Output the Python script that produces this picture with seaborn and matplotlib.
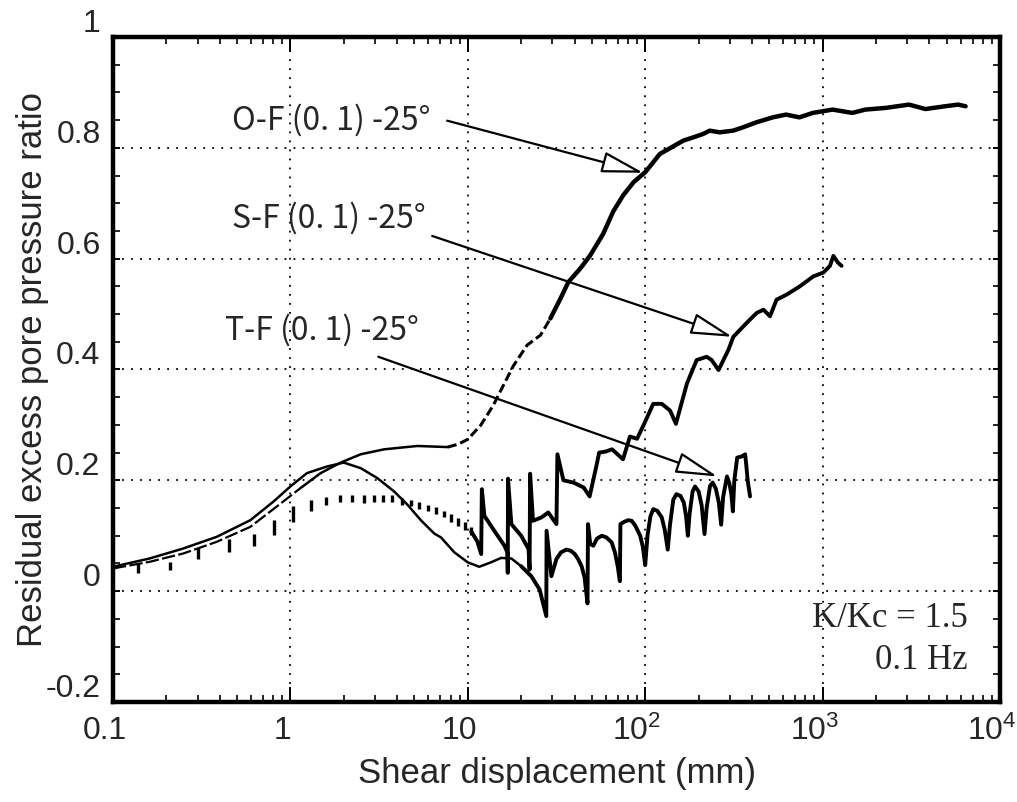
import numpy as np
import matplotlib
matplotlib.use("Agg")
import matplotlib.pyplot as plt
import matplotlib.transforms as mtransforms
from matplotlib.ticker import FixedLocator, MultipleLocator, LogLocator, NullFormatter
import seaborn as sns

# ---- data ----
# O-F(0.1)-25deg
of_x = [0.1, 0.161, 0.249, 0.384, 0.594, 0.84, 1.14, 1.48, 1.92, 2.49, 3.38, 5.2, 7.7,
        8.8, 10, 11.8, 13.9, 16.2, 18.1, 21.6, 25.7, 29.2, 33.3, 36.9, 43, 49, 58, 66,
        75, 86, 100, 121, 164, 187, 212, 231, 263, 313, 356, 423, 524, 622, 740, 880,
        1140, 1470, 1740, 2260, 3070, 3800, 4900, 5800, 6400]
of_y = [0.041, 0.053, 0.068, 0.089, 0.116, 0.153, 0.186, 0.213, 0.232, 0.247, 0.256, 0.262, 0.26,
        0.265, 0.274, 0.299, 0.335, 0.377, 0.407, 0.444, 0.462, 0.492, 0.528, 0.558, 0.582, 0.606, 0.645, 0.685,
        0.714, 0.738, 0.756, 0.789, 0.813, 0.819, 0.825, 0.831, 0.828, 0.831, 0.837, 0.846, 0.855, 0.86, 0.855, 0.863,
        0.869, 0.863, 0.869, 0.872, 0.878, 0.87, 0.875, 0.878, 0.875]

# S-F(0.1)-25deg : sparse cycles at small displacement (vertical bars), then the trace
sf_bar_x = [0.139, 0.209, 0.303, 0.448, 0.62, 0.81, 1.035, 1.30, 1.58, 1.90, 2.23, 2.60, 2.96,
            3.34, 3.76, 4.25, 4.77, 5.32, 5.94, 6.62, 7.33, 8.05, 8.85, 9.66, 10.45]
sf_bar_lo = [0.032, 0.039, 0.058, 0.071, 0.082, 0.102, 0.125, 0.145, 0.156, 0.161, 0.161, 0.159, 0.160,
             0.160, 0.161, 0.156, 0.153, 0.148, 0.144, 0.139, 0.133, 0.125, 0.118, 0.110, 0.101]
sf_bar_hi = [0.050, 0.053, 0.077, 0.095, 0.104, 0.128, 0.153, 0.165, 0.170, 0.173, 0.173, 0.173, 0.173,
             0.173, 0.173, 0.168, 0.165, 0.161, 0.156, 0.151, 0.145, 0.139, 0.132, 0.124, 0.116]
sf_x = [10.45, 11.3, 11.9, 12.0, 12.4, 14.1, 16.1, 16.7, 16.8, 16.85, 17.6, 20, 22, 22.3, 22.45, 23.3,
        26, 28.4, 31.6, 32.0, 34.6, 39.4, 45, 48.6, 53, 55, 60, 65, 75, 82, 90, 98, 111, 124, 138,
        149, 172, 195, 222, 237, 259, 294, 314, 373, 425, 464, 505, 550, 626, 744, 886, 1010, 1100,
        1150, 1220, 1280]
sf_y = [0.108, 0.09, 0.067, 0.184, 0.136, 0.109, 0.082, 0.07, 0.033, 0.203, 0.121, 0.1, 0.076, 0.039, 0.212, 0.127,
        0.133, 0.142, 0.121, 0.247, 0.2, 0.196, 0.187, 0.171, 0.225, 0.25, 0.252, 0.256, 0.238, 0.279, 0.275, 0.30, 0.338, 0.338, 0.326,
        0.302, 0.375, 0.417, 0.423, 0.417, 0.399, 0.435, 0.459, 0.484, 0.502, 0.508, 0.496, 0.526, 0.535, 0.55, 0.568, 0.575, 0.587,
        0.605, 0.593, 0.587]

# T-F(0.1)-25deg
tf_x = [0.1, 0.161, 0.249, 0.384, 0.594, 0.805, 1.0, 1.24, 1.61, 2.0, 2.49, 3.09, 3.84, 4.57, 5.44,
        6.47, 7.06, 8.4, 10, 11.6, 13.5, 15.4, 17.6, 20, 22.8, 25.4, 27.7,
        27.8, 29.6, 31.6, 33.5, 35.9, 38, 40.1, 42, 43.8, 45.5, 47.3,
        47.6, 49, 51, 53.5, 56.9, 60.5, 64.7, 67.5, 70, 72,
        72.5, 76, 80, 83.9, 88, 93.7, 97, 100,
        103, 107, 111, 117, 124, 129, 134,
        138, 144, 150, 158, 165, 170, 174,
        178, 185, 191, 200, 208, 216,
        222, 232, 240, 250, 260, 268,
        275, 289, 298, 306, 312,
        318, 330, 350, 366, 372, 378, 390]
tf_y = [0.044, 0.059, 0.077, 0.098, 0.128, 0.162, 0.189, 0.213, 0.225, 0.232, 0.222, 0.204, 0.18, 0.156, 0.128,
        0.104, 0.097, 0.07, 0.052, 0.044, 0.052, 0.06, 0.059, 0.045, 0.027, 0.003, -0.045,
        0.109, 0.027, 0.058, 0.07, 0.075, 0.073, 0.067, 0.057, 0.045, 0.025, -0.022,
        0.121, 0.085, 0.082, 0.095, 0.1, 0.097, 0.088, 0.07, 0.045, 0.018,
        0.121, 0.125, 0.128, 0.127, 0.118, 0.1, 0.08, 0.047,
        0.1, 0.135, 0.148, 0.145, 0.133, 0.11, 0.075,
        0.12, 0.165, 0.175, 0.172, 0.16, 0.135, 0.1,
        0.14, 0.18, 0.189, 0.18, 0.155, 0.103,
        0.15, 0.19, 0.196, 0.185, 0.16, 0.12,
        0.17, 0.207, 0.195, 0.175, 0.144,
        0.2, 0.241, 0.243, 0.247, 0.225, 0.2, 0.171]

labels = ["O-F (0. 1) -25°", "S-F (0. 1) -25°", "T-F (0. 1) -25°"]
label_pos = [(0.134, 0.875), (0.134, 0.728), (0.126, 0.559)]
arrow_tail = [(7.65, 0.849), (6.3, 0.641), (3.13, 0.423)]
arrow_tip = [(97.5, 0.755), (310, 0.459), (255, 0.207)]

x_ticks = [0.1, 1, 10, 100, 1000, 10000]
x_ticklabels = ["0.1", "1", "10", r"$\mathdefault{10^{2}}$", r"$\mathdefault{10^{3}}$", r"$\mathdefault{10^{4}}$"]
y_ticks = [-0.2, 0, 0.2, 0.4, 0.6, 0.8, 1.0]
y_ticklabels = ["-0.2", "0", "0.2", "0.4", "0.6", "0.8", "1"]

# ---- plotting ----
sns.set_style("ticks")
plt.rcParams["font.family"] = ["Liberation Sans", "DejaVu Sans"]
plt.rcParams["mathtext.default"] = "regular"

fig = plt.figure(figsize=(10.17, 8.02), dpi=100)
ax = fig.add_axes([113 / 1017, 1 - 702 / 802, 887 / 1017, 665 / 802])
ax.set_xscale("log")

of_x_a, of_y_a = np.array(of_x), np.array(of_y)
segs = [
    ((of_x_a <= 1.14), 1.6, (0, (6, 1.5))),
    ((of_x_a >= 1.14) & (of_x_a <= 7.7), 1.8, "-"),
    ((of_x_a >= 7.7) & (of_x_a <= 29.2), 2.2, (0, (3, 1.3))),
    ((of_x_a >= 29.2), 3.2, "-"),
]
for mask, lw, ls in segs:
    sns.lineplot(x=of_x_a[mask], y=of_y_a[mask], sort=False, estimator=None,
                 color="black", lw=lw, linestyle=ls, ax=ax)

ax.vlines(sf_bar_x, sf_bar_lo, sf_bar_hi, color="black", lw=2.4)
sns.lineplot(x=sf_x, y=sf_y, sort=False, estimator=None, color="black", lw=2.8, ax=ax)

tf_x_a, tf_y_a = np.array(tf_x), np.array(tf_y)
m1 = tf_x_a <= 20
m2 = tf_x_a >= 20
sns.lineplot(x=tf_x_a[m1], y=tf_y_a[m1], sort=False, estimator=None, color="black", lw=1.8, ax=ax)
sns.lineplot(x=tf_x_a[m2], y=tf_y_a[m2], sort=False, estimator=None, color="black", lw=2.8, ax=ax)

for lab, (tx, ty), tail, tip in zip(labels, label_pos, arrow_tail, arrow_tip):
    ax.text(tx, ty, lab, transform=ax.transAxes, ha="left", va="center",
            fontsize=23, family=["Noto Sans CJK JP", "DejaVu Sans"])
    ax.annotate("", xy=tip, xytext=tail,
                arrowprops=dict(arrowstyle="-|>,head_length=1.3,head_width=0.33",
                                mutation_scale=20, fc="white", ec="black", lw=1.6,
                                shrinkA=0, shrinkB=0))

ax.text(0.964, 0.126, "K/Kc = 1.5", transform=ax.transAxes, ha="right", va="center",
        fontsize=25, family="Liberation Serif")
ax.text(0.964, 0.062, "0.1 Hz", transform=ax.transAxes, ha="right", va="center",
        fontsize=25, family="Liberation Serif")

ax.set_xlim(0.1, 10000)
ax.set_ylim(-0.2, 1.0)
ax.xaxis.set_major_locator(FixedLocator(x_ticks))
ax.xaxis.set_minor_locator(LogLocator(base=10, subs=np.arange(2, 10), numticks=30))
ax.xaxis.set_minor_formatter(NullFormatter())
ax.set_xticks(x_ticks)
ax.set_xticklabels(x_ticklabels)
ax.set_yticks(y_ticks)
ax.set_yticklabels(y_ticklabels)
ax.yaxis.set_minor_locator(MultipleLocator(0.05))

ax.grid(True, which="major", color="black", linestyle=(0, (1, 4)), linewidth=1.3)
ax.tick_params(axis="both", which="both", direction="in", top=True, right=True, color="black")
ax.tick_params(axis="x", which="major", length=11, width=1.4, labelsize=23, pad=10)
ax.tick_params(axis="x", which="minor", length=5, width=1.2)
ax.tick_params(axis="y", which="major", length=5, width=1.4, labelsize=23, pad=9)
ax.tick_params(axis="y", which="minor", length=5, width=1.2)
for s in ax.spines.values():
    s.set_linewidth(3.2)
    s.set_color("black")

ax.set_xlabel("Shear displacement (mm)", fontsize=25)
ax.set_ylabel("Residual excess pore pressure ratio", fontsize=25)
ax.xaxis.set_label_coords(0.5, -0.083)
ax.yaxis.set_label_coords(-0.072, 0.5)

# the scanned tick labels sit a little up/left of their ticks
dy = mtransforms.ScaledTranslation(0, 12 / 72, fig.dpi_scale_trans)
for t in ax.get_yticklabels():
    t.set_transform(t.get_transform() + dy)
dx = mtransforms.ScaledTranslation(-6 / 72, 0, fig.dpi_scale_trans)
for t in ax.get_xticklabels():
    t.set_transform(t.get_transform() + dx)

fig.savefig("out.png", dpi=100)
